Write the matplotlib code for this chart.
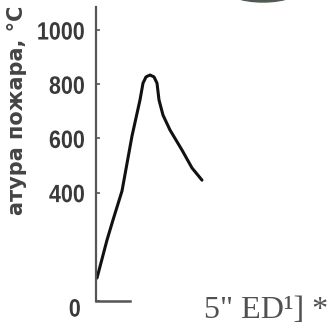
import matplotlib
matplotlib.use("Agg")
import matplotlib.pyplot as plt
from matplotlib.patches import Ellipse
from matplotlib.transforms import Affine2D, ScaledTranslation
from matplotlib import patheffects

# curve (x in arbitrary time units, y in deg C)
t = [0.05, 0.55, 0.85, 1.3, 1.8, 2.2, 2.35, 2.5, 2.7, 2.9, 3.05, 3.15, 3.35, 3.7, 4.3, 4.8, 5.3]
temp = [85, 225, 299, 406, 609, 742, 804, 827, 834, 827, 804, 742, 686, 631, 557, 491, 446]

yticks = [0, 400, 600, 800, 1000]
ylabels = ["0", "400", "600", "800", "1000"]
ylab = "атура пожара, °С"
note = "5\" ED\u00b9] *"


class Squeeze(patheffects.AbstractPathEffect):
    # narrow the glyphs along the text direction, keeping the right end fixed
    def __init__(self, sx):
        super().__init__()
        self.sx = sx

    def draw_path(self, renderer, gc, tpath, affine, rgbFace=None):
        x1 = tpath.get_extents().x1
        tr = Affine2D().translate(-x1, 0).scale(self.sx, 1).translate(x1, 0) + affine
        renderer.draw_path(gc, tpath, tr, rgbFace)


W, H = 332, 327
fig = plt.figure(figsize=(W / 100, H / 100), dpi=100)
ax = fig.add_axes([96 / W, 26 / H, 236 / W, 294 / H])

ax.plot(t, temp, color="#111111", lw=2.2, solid_capstyle="round")

ax.set_xlim(0, 11.8)
ax.set_ylim(0, 1085)
for s in ["top", "right"]:
    ax.spines[s].set_visible(False)
ax.spines["left"].set_color("#555555")
ax.spines["left"].set_linewidth(1.6)
ax.spines["bottom"].set_color("#555555")
ax.spines["bottom"].set_linewidth(1.8)
ax.spines["bottom"].set_bounds(0, 1.7)

ax.set_xticks([])
ax.set_yticks(yticks)
ax.set_yticklabels(ylabels, fontfamily="Liberation Sans", fontweight="bold",
                   fontsize=18, color="#3a3a3a")
ax.tick_params(axis="y", direction="in", length=3, width=1.2, color="#555555", pad=8)
for lab in ax.get_yticklabels():
    lab.set_path_effects([Squeeze(0.86)])
# the zero sits a little lower and to the left in the scan
zero = ax.get_yticklabels()[0]
zero.set_transform(zero.get_transform() + ScaledTranslation(-4 / 100, -6 / 100, fig.dpi_scale_trans))

fig.text(17 / W, 1 - 6 / H, ylab, rotation=90, ha="center", va="top",
         fontfamily="DejaVu Sans", fontweight="bold", fontsize=15, color="#444444")

fig.text(204 / W, 9 / H, note, ha="left", va="baseline",
         fontfamily="Liberation Serif", fontsize=23, color="#505050")

# dark smudge at the top edge of the scan
fig.patches.append(Ellipse((263 / W, 1 + 13 / H), 80 / W, 30 / H,
                           transform=fig.transFigure, color="#4f5a50"))

fig.savefig("out.png", dpi=100)
